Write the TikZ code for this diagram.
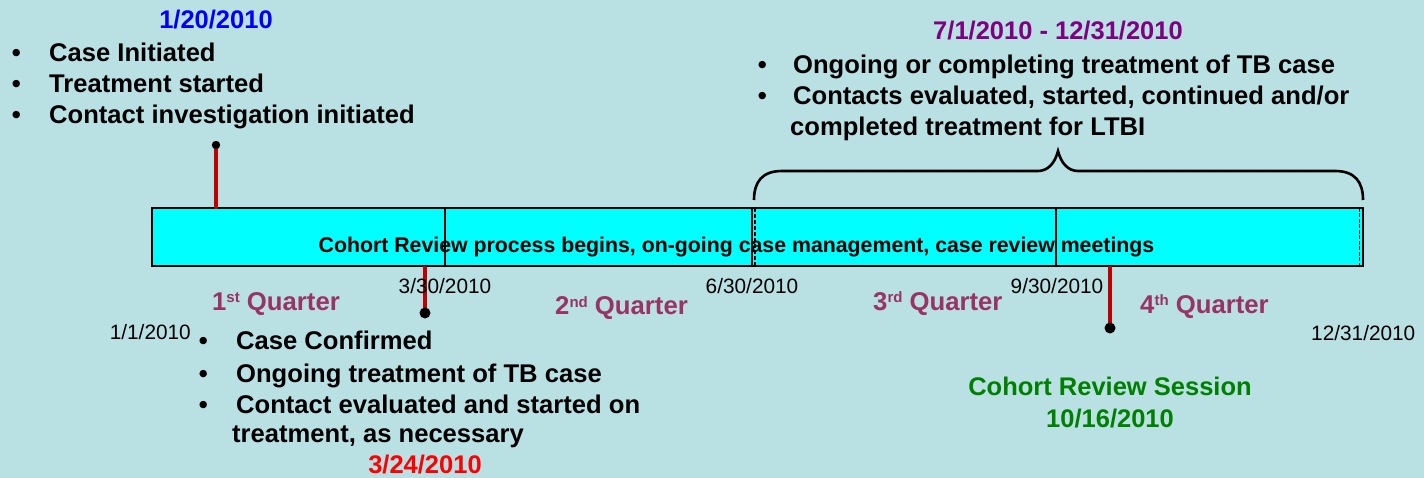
\documentclass[tikz,border=0pt]{standalone}
\usepackage{fontspec}
\setmainfont{Liberation Sans}
\definecolor{bgc}{RGB}{185,224,227}
\definecolor{barc}{RGB}{0,255,255}
\definecolor{qc}{RGB}{153,51,102}
\definecolor{pc}{RGB}{128,0,128}
\definecolor{bc}{RGB}{0,0,255}
\definecolor{gc}{RGB}{0,128,0}
\definecolor{rc}{RGB}{255,0,0}
\definecolor{rl}{RGB}{192,0,0}
\newcommand\bulA{\makebox[37.4pt][l]{\textbullet}}
\newcommand\bulB{\makebox[35.4pt][l]{\textbullet}}
\newcommand\sups[1]{\raisebox{0.55ex}{\fontsize{15}{18}\selectfont #1}}
\begin{document}
\begin{tikzpicture}[x=1pt,y=-1pt,
  bt/.style={inner sep=0pt, anchor=base west, font=\fontsize{25.6}{30}\selectfont\bfseries},
  hd/.style={inner sep=0pt, anchor=base, font=\fontsize{25.5}{30}\selectfont\bfseries},
  dt/.style={inner sep=0pt, anchor=base, font=\fontsize{20.8}{24}\selectfont},
  qt/.style={inner sep=0pt, anchor=base west, text=qc, font=\fontsize{25.7}{30}\selectfont\bfseries},
  redline/.style={draw=rl, line width=4pt},
  dotc/.style={fill=black},
  barline/.style={draw=black, line width=1.3pt}]
\fill[bgc] (0,0) rectangle (1424,478);
\useasboundingbox (0,0) rectangle (1424,478);

% bar
\fill[barc] (152,208) rectangle (1363,266);
\draw[barline] (152,208) rectangle (1363,266);
\draw[barline] (445,208) -- (445,266);
\draw[barline] (752,208) -- (752,266);
\draw[black, line width=1.3pt, dash pattern=on 4pt off 2pt] (755,208) -- (755,266);
\draw[barline] (1056,208) -- (1056,266);
\draw[black, line width=1.6pt, dash pattern=on 4pt off 1.5pt] (1359.5,208) -- (1359.5,266);
\node[inner sep=0pt, anchor=base, font=\fontsize{21.3}{25}\selectfont\bfseries] (bartext) at (736.5,253) {Cohort Review process begins, on-going case management, case review meetings};

% brace
\draw[black, line width=2.6pt] (754,200) .. controls (754,182) and (762,171) .. (782,171) -- (1038,171) .. controls (1048,171) and (1055,163) .. (1058,151) .. controls (1061,163) and (1068,171) .. (1078,171) -- (1335,171) .. controls (1355,171) and (1363,182) .. (1363,200);

% markers
\coordinate (m1top) at (216,145);
\coordinate (m1bot) at (216,209);
\coordinate (m2top) at (425,266);
\coordinate (m2bot) at (425,313);
\coordinate (m3top) at (1110,266);
\coordinate (m3bot) at (1110,328);
\draw[redline] (m1top) -- (m1bot);
\draw[redline] (m2top) -- (m2bot);
\draw[redline] (m3top) -- (m3bot);
\fill[dotc] (m1top) circle (4.2);
\fill[dotc] (m2bot) circle (5.5);
\fill[dotc] (m3bot) circle (5.5);

% top-left
\node[hd, text=bc] (d120) at (216,29) {1/20/2010};
\node[bt] (tl1) at (11.6,62) {\bulA Case Initiated};
\node[bt] (tl2) at (11.6,93) {\bulA Treatment started};
\node[bt] (tl3) at (11.6,124) {\bulA Contact investigation initiated};

% top-right
\node[hd, text=pc] (d71) at (1058,40) {7/1/2010 - 12/31/2010};
\node[bt] (tr1) at (757.6,74) {\bulB Ongoing or completing treatment of TB case};
\node[bt] (tr2) at (757.6,105) {\bulB Contacts evaluated, started, continued and/or};
\node[bt] (tr3) at (790,136) {completed treatment for LTBI};

% dates
\node[dt] (d330) at (445,294) {3/30/2010};
\node[dt] (d630) at (752,294) {6/30/2010};
\node[dt] (d930) at (1057,294) {9/30/2010};
\node[dt, anchor=base east] (d11) at (191,339) {1/1/2010};
\node[dt, anchor=base west] (d1231) at (1311,340) {12/31/2010};

% quarters
\node[qt] (q1) at (212,310) {1\sups{st} Quarter};
\node[qt] (q2) at (555,315) {2\sups{nd} Quarter};
\node[qt] (q3) at (873,310) {3\sups{rd} Quarter};
\node[qt] (q4) at (1140,313) {4\sups{th} Quarter};

% bottom-left
\node[bt] (bl1) at (198.6,349) {\bulA Case Confirmed};
\node[bt] (bl2) at (198.6,382) {\bulA Ongoing treatment of TB case};
\node[bt] (bl3) at (198.6,413) {\bulA Contact evaluated and started on};
\node[bt] (bl4) at (232,442) {treatment, as necessary};
\node[hd, text=rc] (d324) at (425,473) {3/24/2010};

% bottom-right
\node[hd, text=gc] (crs) at (1110,395) {Cohort Review Session};
\node[hd, text=gc] (d1016) at (1110,427) {10/16/2010};
\end{tikzpicture}
\end{document}
